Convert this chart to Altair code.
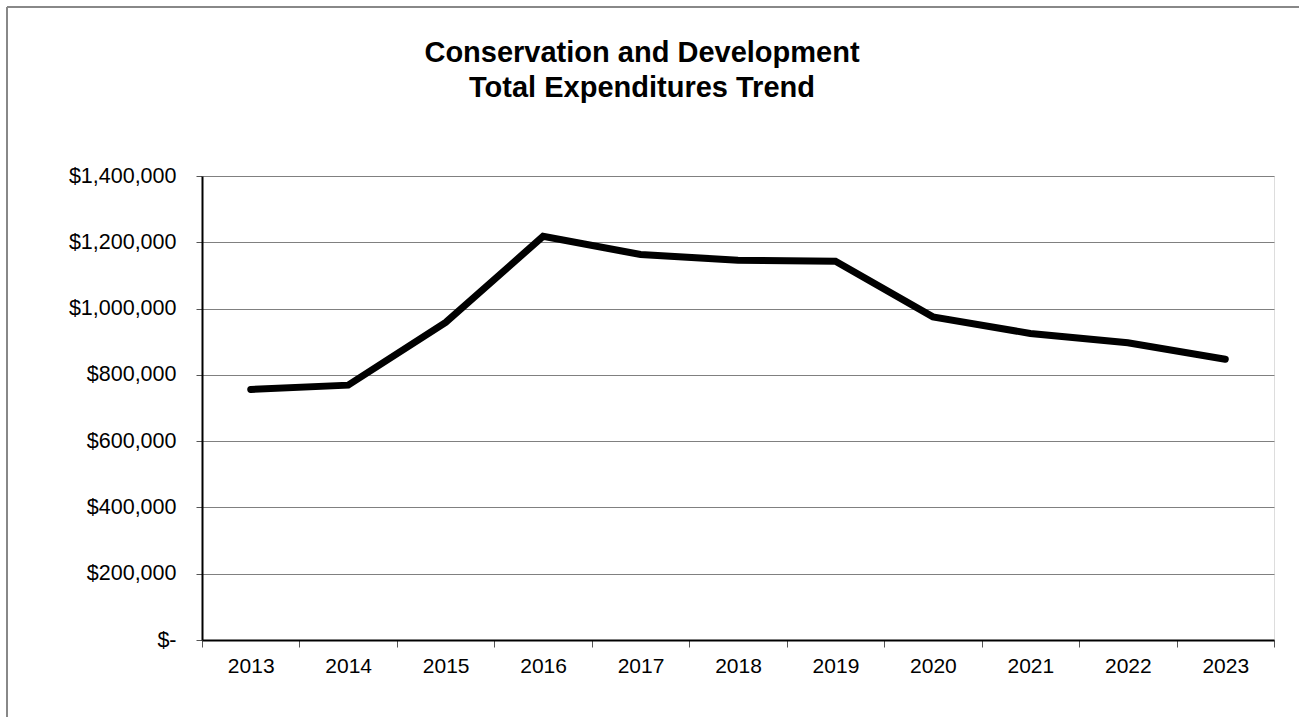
import altair as alt
import pandas as pd

years = ["2013", "2014", "2015", "2016", "2017", "2018", "2019", "2020", "2021", "2022", "2023"]
expenditures = [756000, 769000, 958000, 1218000, 1163000, 1146000, 1143000, 975000, 925000, 897000, 847000]
y_ticks = [0, 200000, 400000, 600000, 800000, 1000000, 1200000, 1400000]
title_lines = ["Conservation and Development", "Total Expenditures Trend"]

df = pd.DataFrame({"year": years, "value": expenditures})

FONT = "Liberation Sans"

line = alt.Chart(df).mark_line(
    color="black", strokeWidth=7, strokeCap="round", strokeJoin="miter"
).encode(
    x=alt.X(
        "year:O",
        sort=years,
        scale=alt.Scale(type="band", paddingInner=0, paddingOuter=0),
        axis=alt.Axis(
            title=None,
            tickBand="extent",
            labelAngle=0,
            labelFont=FONT,
            labelFontSize=21,
            labelColor="black",
            labelPadding=8,
            tickSize=7,
            tickColor="#555555",
            domainColor="black",
            domainWidth=2,
            grid=False,
        ),
    ),
    y=alt.Y(
        "value:Q",
        scale=alt.Scale(domain=[0, 1400000], nice=False),
        axis=alt.Axis(
            title=None,
            values=y_ticks,
            labelExpr="datum.value == 0 ? '$-' : '$' + format(datum.value, ',')",
            labelFont=FONT,
            labelFontSize=21.5,
            labelColor="black",
            labelPadding=20,
            tickSize=6,
            tickColor="#555555",
            domainColor="black",
            domainWidth=2,
            grid=True,
            gridColor="#808080",
            gridWidth=1,
        ),
    ),
)

frame_df = pd.DataFrame({"k": [0]})
frame_top = alt.Chart(frame_df).mark_rule(color="#888888", strokeWidth=2).encode(
    x=alt.value(-195), x2=alt.value(1110), y=alt.value(-169)
)
frame_left = alt.Chart(frame_df).mark_rule(color="#888888", strokeWidth=2).encode(
    x=alt.value(-195), y=alt.value(-169), y2=alt.value(560)
)
title_text = alt.Chart(frame_df).mark_text(
    font=FONT,
    fontSize=29,
    fontWeight="bold",
    color="black",
    align="center",
    baseline="alphabetic",
    lineHeight=35,
).encode(
    x=alt.value(440),
    y=alt.value(-114),
    text=alt.value(title_lines),
)

chart = alt.layer(frame_top, frame_left, title_text, line).properties(
    width=1072,
    height=464,
    padding={"left": 202, "top": 176, "right": 25, "bottom": 77},
    autosize=alt.AutoSizeParams(type="none"),
).configure_view(
    stroke="#808080", strokeWidth=2
).configure(background="white")

chart.save("out.html", embed_options={"renderer": "svg", "actions": False})
